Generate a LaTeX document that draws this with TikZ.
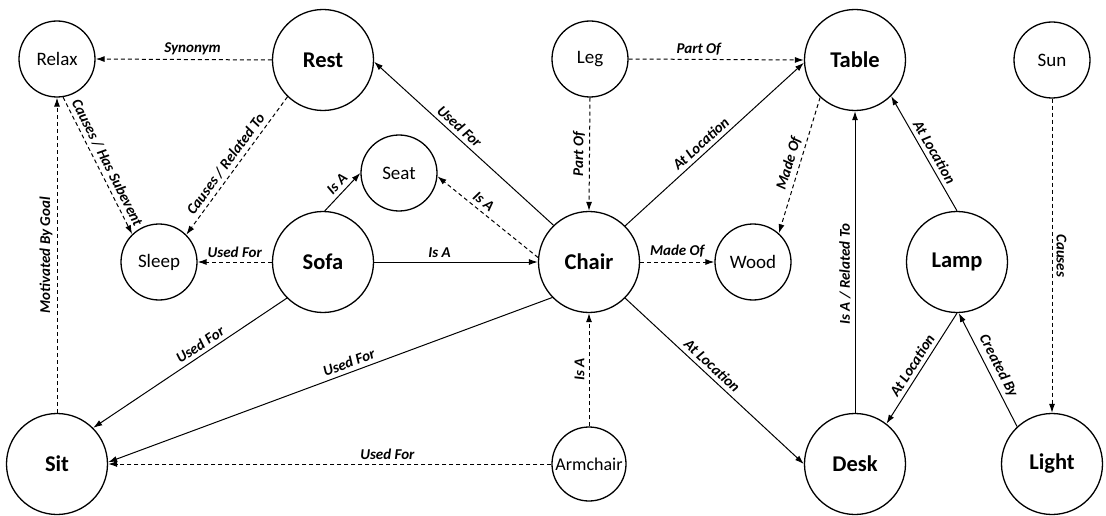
\documentclass[tikz,border=0pt]{standalone}
\usepackage{fontspec}
\setmainfont{Carlito}
\usetikzlibrary{arrows.meta}
\begin{document}
\begin{tikzpicture}[x=1pt,y=-1pt,
  small/.style={circle,draw,line width=1.3pt,minimum size=76pt,inner sep=0pt,font=\fontsize{19}{22}\selectfont},
  big/.style={circle,draw,line width=1.3pt,minimum size=101pt,inner sep=0pt,font=\fontsize{22.5}{26}\selectfont\bfseries},
  rel/.style={line width=1pt,-{Latex[length=9pt,width=6pt]}},
  drel/.style={rel,dash pattern=on 4pt off 3pt},
  lab/.style={sloped,above,font=\fontsize{15}{17}\selectfont\bfseries\itshape,inner sep=4pt},
]
\useasboundingbox (0,0) rectangle (1106,516);
\node[small] (relax) at (57,59) {Relax};
\node[big] (rest) at (323,60) {Rest};
\node[small] (leg) at (590,59) {Leg};
\node[big] (table) at (855,60) {Table};
\node[small] (sun) at (1052,60) {Sun};
\node[small] (seat) at (399,173) {Seat};
\node[small] (sleep) at (159,262) {Sleep};
\node[big] (sofa) at (323,262) {Sofa};
\node[big] (chair) at (589,262) {Chair};
\node[small] (wood) at (753,262) {Wood};
\node[big] (lamp) at (957,262) {Lamp};
\node[big] (sit) at (57,464) {Sit};
\node[small,minimum size=74pt,font=\fontsize{18}{21}\selectfont] (armchair) at (589,464) {Armchair};
\node[big] (desk) at (855,464) {Desk};
\node[big] (light) at (1052,464) {Light};

\draw[drel] (rest.180) -- node[lab,pos=0.45]{Synonym} (relax.0);
\draw[drel] (relax.-81) -- node[lab,pos=0.51]{Causes / Has Subevent} (sleep.134);
\draw[drel] (rest.-134) -- node[lab,pos=0.53]{Causes / Related To} (sleep.45);
\draw[drel] (sit.90) -- node[lab]{Motivated By Goal} (relax.-90);
\draw[rel] (sofa.88) -- node[lab,pos=0.54]{Is A} (seat.180);
\draw[drel] (sofa.180) -- node[lab]{Used For} (sleep.0);
\draw[rel] (sofa.0) -- node[lab,pos=0.4]{Is A} (chair.180);
\draw[drel] (chair.175) -- node[lab,pos=0.6]{Is A} (seat.-5);
\draw[rel] (chair.134) -- node[lab,pos=0.56]{Used For} (rest.-2);
\draw[drel] (leg.-90) -- node[lab]{Part Of} (chair.90);
\draw[drel] (leg.0) -- node[lab,pos=0.4]{Part Of} (table.180);
\draw[rel] (chair.45) -- node[lab,pos=0.46]{At Location} (table.183);
\draw[drel] (table.-133) -- node[lab,pos=0.51]{Made Of} (wood.48);
\draw[drel] (chair.0) -- node[lab]{Made Of} (wood.180);
\draw[rel] (desk.90) -- node[lab,pos=0.46]{Is A / Related To} (table.-90);
\draw[rel] (lamp.90) -- node[lab,pos=0.47]{At Location} (table.-45);
\draw[drel] (sun.-90) -- node[lab]{Causes} (light.90);
\draw[rel] (sofa.-135) -- node[lab,pos=0.42]{Used For} (sit.45);
\draw[rel] (chair.-136) -- node[lab,pos=0.45]{Used For} (sit.2);
\draw[drel] (armchair.180) -- node[lab,pos=0.37]{Used For} (sit.0);
\draw[drel] (armchair.90) -- node[lab]{Is A} (chair.-90);
\draw[rel] (chair.-45) -- node[lab,pos=0.45]{At Location} (desk.180);
\draw[rel] (lamp.-90) -- node[lab,pos=0.52]{At Location} (desk.52);
\draw[rel] (light.133) -- node[lab,pos=0.49]{Created By} (lamp.-88);
\end{tikzpicture}
\end{document}
